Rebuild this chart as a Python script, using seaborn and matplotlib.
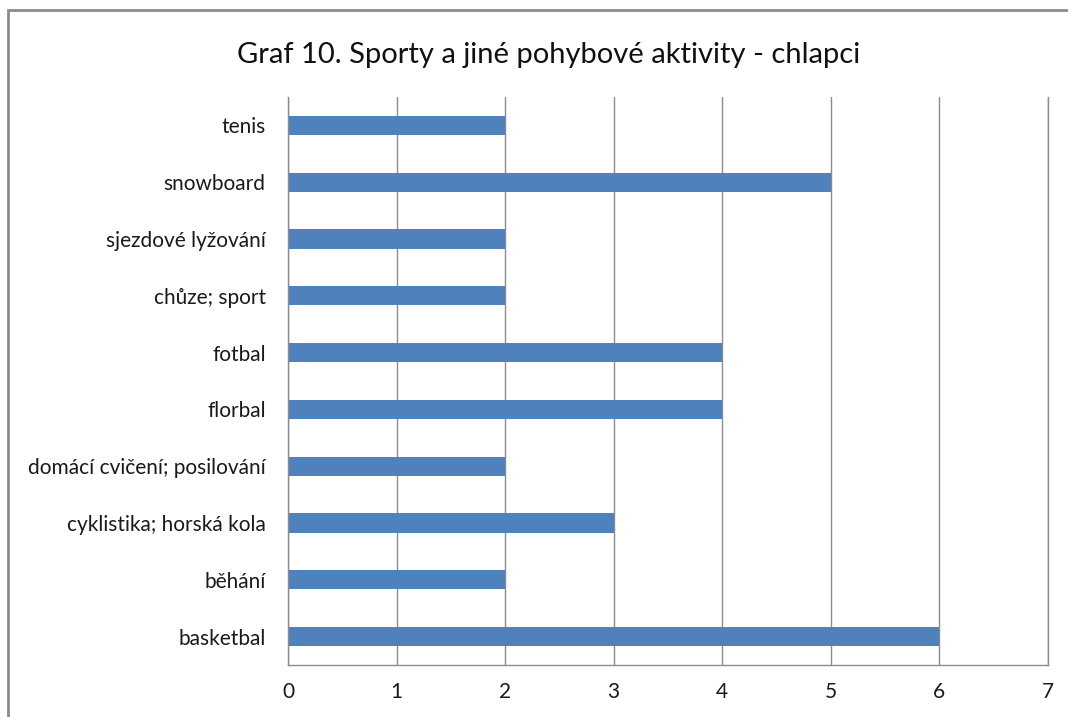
import matplotlib
matplotlib.use("Agg")
import matplotlib.pyplot as plt
import seaborn as sns
import pandas as pd
from matplotlib.patches import Rectangle

categories = ["tenis", "snowboard", "sjezdové lyžování", "chůze; sport", "fotbal",
              "florbal", "domácí cvičení; posilování", "cyklistika; horská kola",
              "běhání", "basketbal"]
values = [2, 5, 2, 2, 4, 4, 2, 3, 2, 6]
title = "Graf 10. Sporty a jiné pohybové aktivity - chlapci"

sns.set_theme(style="white")
plt.rcParams['font.family'] = ['Lato', 'DejaVu Sans']

df = pd.DataFrame({"kategorie": categories, "pocet": values})

W, H = 1068, 717
fig = plt.figure(figsize=(W / 100, H / 100), dpi=100)
ax = fig.add_axes([288 / W, 1 - 665 / H, (1048 - 288) / W, (665 - 97) / H])

sns.barplot(data=df, x="pocet", y="kategorie", orient="h", color="#4F81BD",
            saturation=1, width=0.34, linewidth=0, edgecolor="none", ax=ax)

ax.set_xlim(0, 7)
ax.set_ylim(9.5, -0.5)
ax.set_xticks(range(0, 8))
ax.set_xlabel("")
ax.set_ylabel("")
ax.grid(axis="x", color="#8C8C8C", linewidth=1)
ax.grid(axis="y", visible=False)
ax.set_axisbelow(True)
ax.spines["top"].set_visible(False)
for s in ["left", "bottom", "right"]:
    ax.spines[s].set_visible(True)
    ax.spines[s].set_color("#8C8C8C")
    ax.spines[s].set_linewidth(1)
ax.tick_params(axis="y", length=0, pad=16, labelsize=15, labelcolor="#1A1A1A")
ax.tick_params(axis="x", length=0, pad=12, labelsize=15, labelcolor="#1A1A1A")

fig.text(549 / W, 1 - 55 / H, title, ha="center", va="center", fontsize=21, color="#111111")

fig.patches.append(Rectangle((8 / W, -0.1), 1.2, 1 - 10 / H + 0.1, transform=fig.transFigure,
                             fill=False, edgecolor="#8A8A8A", linewidth=2))

fig.savefig("out.png", dpi=100)
